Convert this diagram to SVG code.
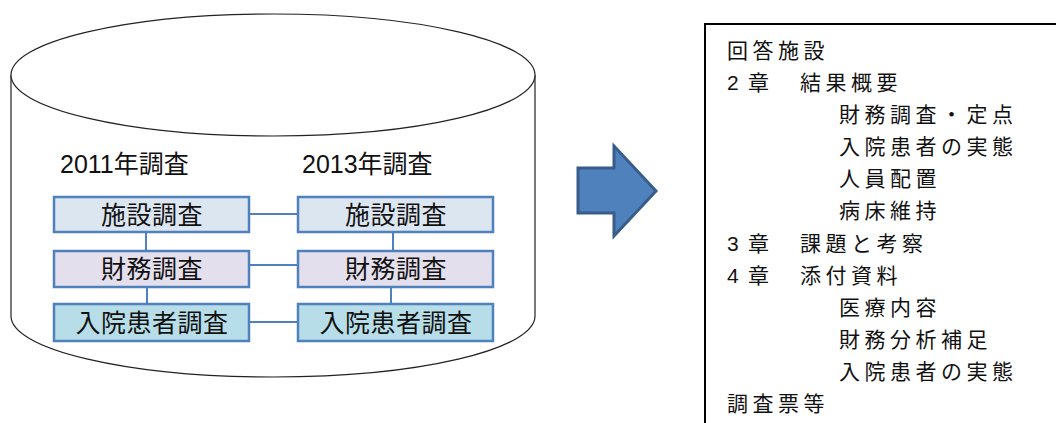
<svg xmlns="http://www.w3.org/2000/svg" width="1056" height="423" viewBox="0 0 1056 423">
<style>
.cyl{fill:#fff;stroke:#222;stroke-width:1.2}
.box{stroke:#4F81BD;stroke-width:2.5}
.b1{fill:#DCE6F1}.b2{fill:#E4DFEC}.b3{fill:#B7DEE8}
.bt{font-family:"Liberation Sans","Noto Sans CJK JP",sans-serif;font-size:25px;fill:#111;text-anchor:middle;letter-spacing:0.5px}
.lab{font-family:"Liberation Sans","Noto Sans CJK JP",sans-serif;font-size:25px;fill:#111}
.con{stroke:#4F81BD;stroke-width:2;fill:none}
.rt{font-family:"Liberation Sans","Noto Sans CJK JP",sans-serif;font-size:21px;fill:#111;letter-spacing:4.5px}
</style>
<g id="cylinder">
<path class="cyl" d="M11,75 L11,316 A262,61 0 0 0 535,316 L535,75"/>
<ellipse class="cyl" cx="273" cy="75" rx="262" ry="61"/>
</g>
<text class="lab" x="60" y="173">2011年調査</text>
<text class="lab" x="302" y="173">2013年調査</text>
<g id="connectors">
<line class="con" x1="249" y1="214" x2="298" y2="214"/>
<line class="con" x1="249" y1="265" x2="298" y2="265"/>
<line class="con" x1="249" y1="322" x2="298" y2="322"/>
<line class="con" x1="146" y1="232" x2="146" y2="251"/>
<line class="con" x1="147" y1="287" x2="147" y2="304"/>
<line class="con" x1="393" y1="232" x2="393" y2="251"/>
<line class="con" x1="391" y1="287" x2="391" y2="304"/>
</g>
<g id="l1"><rect class="box b1" x="54" y="197" width="195" height="35"/><text class="bt" x="152" y="224">施設調査</text></g>
<g id="l2"><rect class="box b2" x="54" y="251" width="195" height="36"/><text class="bt" x="152" y="278">財務調査</text></g>
<g id="l3"><rect class="box b3" x="54" y="304" width="195" height="37"/><text class="bt" x="152" y="332">入院患者調査</text></g>
<g id="r1"><rect class="box b1" x="298" y="197" width="195" height="35"/><text class="bt" x="396" y="224">施設調査</text></g>
<g id="r2"><rect class="box b2" x="298" y="251" width="195" height="36"/><text class="bt" x="396" y="278">財務調査</text></g>
<g id="r3"><rect class="box b3" x="298" y="304" width="195" height="37"/><text class="bt" x="396" y="332">入院患者調査</text></g>
<g id="arrow">
<polygon points="578,168 614,168 614,146 656,191 614,236 614,213 578,213" fill="#4F81BD" stroke="#385D8A" stroke-width="3" stroke-linejoin="miter"/>
</g>
<g id="contents">
<rect x="705" y="24" width="400" height="450" fill="#fff" stroke="#000" stroke-width="2"/>
<text class="rt" x="727" y="58">回答施設</text>
<text class="rt" y="90"><tspan x="727">2</tspan><tspan x="748">章</tspan><tspan x="800">結果概要</tspan></text>
<text class="rt" x="839" y="122">財務調査・定点</text>
<text class="rt" x="839" y="154">入院患者の実態</text>
<text class="rt" x="839" y="186">人員配置</text>
<text class="rt" x="839" y="218">病床維持</text>
<text class="rt" y="251"><tspan x="727">3</tspan><tspan x="748">章</tspan><tspan x="800">課題と考察</tspan></text>
<text class="rt" y="283"><tspan x="727">4</tspan><tspan x="748">章</tspan><tspan x="800">添付資料</tspan></text>
<text class="rt" x="839" y="315">医療内容</text>
<text class="rt" x="839" y="347">財務分析補足</text>
<text class="rt" x="839" y="379">入院患者の実態</text>
<text class="rt" x="727" y="411">調査票等</text>
</g>
</svg>
